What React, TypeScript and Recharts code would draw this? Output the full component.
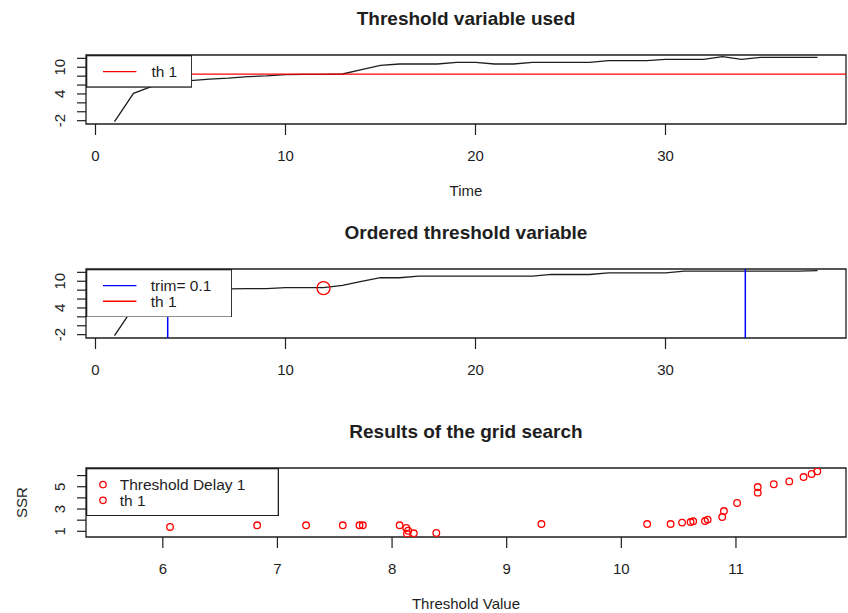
import React from "react";
import {
  LineChart,
  Line,
  ScatterChart,
  Scatter,
  XAxis,
  YAxis,
  ReferenceLine,
  ReferenceArea,
  ReferenceDot,
  Legend,
} from "recharts";

// threshold variable in time order, t = 1..38
const thresholdSeries = [
  -2.23, 4.15, 5.74, 6.4, 6.98, 7.35, 7.55, 7.88, 8.05, 8.35, 8.4, 8.42, 8.48,
  9.45, 10.4, 10.73, 10.73, 10.73, 11.11, 11.11, 10.73, 10.73, 11.11, 11.11,
  11.11, 11.11, 11.47, 11.47, 11.47, 11.78, 11.78, 11.78, 12.37, 11.78, 12.23,
  12.23, 12.23, 12.23,
];

// same variable, ordered
const orderedSeries = [
  -2.23, 4.15, 5.74, 6.4, 6.98, 7.6, 8.3, 8.33, 8.33, 8.55, 8.55, 8.55, 9.07,
  9.95, 10.79, 10.79, 11.14, 11.14, 11.14, 11.14, 11.14, 11.14, 11.14, 11.52,
  11.52, 11.52, 11.9, 11.9, 11.9, 11.9, 12.26, 12.26, 12.26, 12.26, 12.26,
  12.26, 12.26, 12.37,
];

const thValue = 8.45;
const thIndex = 12;
const trimLow = 3.8;
const trimHigh = 34.2;

// grid search: threshold tried vs SSR
const gridThresholds = [
  6.063, 6.823, 7.25, 7.57, 7.716, 7.745, 8.066, 8.124, 8.14, 8.13, 8.19, 8.386,
  9.303, 10.225, 10.43, 10.53, 10.604, 10.627, 10.73, 10.753, 10.88, 10.895,
  11.01, 11.19, 11.19, 11.33, 11.465, 11.59, 11.66, 11.71,
];
const gridSSR = [
  1.39, 1.54, 1.54, 1.54, 1.54, 1.54, 1.54, 1.3, 1.05, 0.79, 0.82, 0.85, 1.65,
  1.65, 1.65, 1.78, 1.83, 1.9, 1.92, 2.05, 2.28, 2.82, 3.54, 4.47, 4.97, 5.22,
  5.48, 5.87, 6.14, 6.38,
];

const timeTicks = [0, 10, 20, 30];
const levelTicks = [-2, 0, 2, 4, 6, 8, 10, 12];
const levelLabels = [-2, 4, 10];
const gridTicks = [6, 7, 8, 9, 10, 11];
const ssrTicks = [1, 2, 3, 4, 5, 6];
const ssrLabels = [1, 3, 5];

const topLegend = [{ label: "th 1", color: "#ff0000", mark: "line" }];
const orderedLegend = [
  { label: "trim= 0.1", color: "#0000ff", mark: "line" },
  { label: "th 1", color: "#ff0000", mark: "line" },
];
const gridLegend = [
  { label: "Threshold Delay 1", color: "#ff0000", mark: "circle" },
  { label: "th 1", color: "#ff0000", mark: "circle" },
];

const FONT = "'Liberation Sans', Arial, Helvetica, sans-serif";
const INK = "#1e1e1e";
const W = 848;
const BOX_LEFT = 86;
const BOX_RIGHT = 846;
const BOX_H = 69;
const TOP_PAD = 55;
const AXIS_H = 72;
const BOTTOM_PAD = 8; // room for descenders under the axis titles
const CHART_H = TOP_PAD + BOX_H + AXIS_H + BOTTOM_PAD;

const timeDomain = [-0.5, 39.5];
const levelDomain = [-2.75, 12.75];
const gridDomain = [5.33, 11.96];
const ssrDomain = [0.49, 6.68];

const timeData = thresholdSeries.map((v, i) => ({ t: i + 1, v }));
const orderedData = orderedSeries.map((v, i) => ({ t: i + 1, v }));
const gridData = gridThresholds.map((x, i) => ({ x, y: gridSSR[i] }));

function XTick(props: any) {
  const { x, y, payload } = props;
  return (
    <text x={x} y={y} dy={10.7} textAnchor="middle" fontSize={15} fontFamily={FONT} fill={INK}>
      {payload.value}
    </text>
  );
}

const makeYTick = (shown: number[]) => (props: any) => {
  const { x, y, payload } = props;
  if (!shown.includes(payload.value)) return <g />;
  return (
    <text
      x={x}
      y={y}
      transform={`rotate(-90 ${x} ${y})`}
      textAnchor="middle"
      fontSize={15}
      fontFamily={FONT}
      fill={INK}
    >
      {payload.value}
    </text>
  );
};

const xTitle = (text: string) => (props: any) => {
  const vb = props.viewBox || {};
  return (
    <text
      x={vb.x + vb.width / 2}
      y={vb.y + vb.height}
      textAnchor="middle"
      fontSize={15}
      fontFamily={FONT}
      fill={INK}
    >
      {text}
    </text>
  );
};

const yTitle = (text: string) => (props: any) => {
  const vb = props.viewBox || {};
  const cx = 27.4;
  const cy = vb.y + vb.height / 2;
  return (
    <text
      x={cx}
      y={cy}
      transform={`rotate(-90 ${cx} ${cy})`}
      textAnchor="middle"
      fontSize={15}
      fontFamily={FONT}
      fill={INK}
    >
      {text}
    </text>
  );
};

function LegendBox({ items, width, height, textX }: any) {
  return (
    <svg width={width} height={height} style={{ display: "block" }}>
      <rect x={0.65} y={0.65} width={width - 1.3} height={height - 1.3} fill="#fff" stroke={INK} strokeWidth={1.3} />
      {items.map((it: any, i: number) => {
        const y = 16.6 + i * 15.7;
        return (
          <g key={i}>
            {it.mark === "line" ? (
              <line x1={17} x2={50.4} y1={y} y2={y} stroke={it.color} strokeWidth={1.4} />
            ) : (
              <circle cx={17} cy={y} r={3.2} fill="none" stroke={it.color} strokeWidth={1.3} />
            )}
            <text x={textX} y={y + 5.5} fontSize={15.5} fontFamily={FONT} fill={INK}>
              {it.label}
            </text>
          </g>
        );
      })}
    </svg>
  );
}

function Title({ text }: { text: string }) {
  return (
    <div
      style={{
        position: "absolute",
        top: 8.2,
        left: BOX_LEFT,
        width: BOX_RIGHT - BOX_LEFT,
        textAlign: "center",
        fontFamily: FONT,
        fontWeight: "bold",
        fontSize: 19,
        lineHeight: "22px",
        color: INK,
        zIndex: 2,
      }}
    >
      {text}
    </div>
  );
}

const margin = { top: TOP_PAD, right: W - BOX_RIGHT, left: 0, bottom: BOTTOM_PAD };

function levelAxes(xTitleText: string | null) {
  return [
    <XAxis
      key="x"
      type="number"
      dataKey="t"
      domain={timeDomain}
      ticks={timeTicks}
      allowDataOverflow
      interval={0}
      axisLine={false}
      tickLine={{ stroke: INK, strokeWidth: 1.2 }}
      tickSize={11}
      tickMargin={15}
      height={AXIS_H}
      tick={XTick}
      label={xTitleText ? { value: xTitleText, content: xTitle(xTitleText) } : undefined}
    />,
    <YAxis
      key="y"
      type="number"
      domain={levelDomain}
      ticks={levelTicks}
      allowDataOverflow
      interval={0}
      axisLine={false}
      tickLine={{ stroke: INK, strokeWidth: 1.2 }}
      tickSize={9}
      tickMargin={11.5}
      width={BOX_LEFT}
      tick={makeYTick(levelLabels)}
    />,
  ];
}

export default function App() {
  return (
    <div style={{ position: "absolute", left: 0, top: 0, width: W, height: 613, background: "#fff", overflow: "hidden" }}>
      {/* panel 1: threshold variable over time */}
      <div style={{ position: "absolute", left: 0, top: 0, width: W, height: CHART_H }}>
        <Title text="Threshold variable used" />
        <LineChart width={W} height={CHART_H} data={timeData} margin={margin}>
          {levelAxes("Time")}
          <Line
            type="linear"
            dataKey="v"
            stroke={INK}
            strokeWidth={1.3}
            dot={false}
            isAnimationActive={false}
          />
          <ReferenceLine y={thValue} stroke="#ff0000" strokeWidth={1.4} />
          <ReferenceArea
            x1={timeDomain[0]}
            x2={timeDomain[1]}
            y1={levelDomain[0]}
            y2={levelDomain[1]}
            fill="none"
            stroke={INK}
            strokeWidth={1.3}
            ifOverflow="visible"
          />
          <Legend
            layout="horizontal"
            verticalAlign="middle"
            align="center"
            wrapperStyle={{ left: BOX_LEFT, top: TOP_PAD, width: 106.4, height: 32.7 }}
            content={() => <LegendBox items={topLegend} width={106.4} height={32.7} textX={65.4} />}
          />
        </LineChart>
      </div>

      {/* panel 2: ordered threshold variable */}
      <div style={{ position: "absolute", left: 0, top: 213.5, width: W, height: CHART_H }}>
        <Title text="Ordered threshold variable" />
        <LineChart width={W} height={CHART_H} data={orderedData} margin={margin}>
          {levelAxes(null)}
          <Line
            type="linear"
            dataKey="v"
            stroke={INK}
            strokeWidth={1.3}
            dot={false}
            isAnimationActive={false}
          />
          <ReferenceLine x={trimLow} stroke="#0000ff" strokeWidth={1.5} />
          <ReferenceLine x={trimHigh} stroke="#0000ff" strokeWidth={1.5} />
          <ReferenceDot x={thIndex} y={thValue} r={6.5} fill="none" stroke="#ff0000" strokeWidth={1.3} />
          <ReferenceArea
            x1={timeDomain[0]}
            x2={timeDomain[1]}
            y1={levelDomain[0]}
            y2={levelDomain[1]}
            fill="none"
            stroke={INK}
            strokeWidth={1.3}
            ifOverflow="visible"
          />
          <Legend
            layout="horizontal"
            verticalAlign="middle"
            align="center"
            wrapperStyle={{ left: BOX_LEFT, top: TOP_PAD, width: 146.4, height: 48.8 }}
            content={() => <LegendBox items={orderedLegend} width={146.4} height={48.8} textX={64.7} />}
          />
        </LineChart>
      </div>

      {/* panel 3: grid search */}
      <div style={{ position: "absolute", left: 0, top: 412.7, width: W, height: CHART_H }}>
        <Title text="Results of the grid search" />
        <ScatterChart width={W} height={CHART_H} margin={margin}>
          <XAxis
            type="number"
            dataKey="x"
            domain={gridDomain}
            ticks={gridTicks}
            allowDataOverflow
            interval={0}
            axisLine={false}
            tickLine={{ stroke: INK, strokeWidth: 1.2 }}
            tickSize={11}
            tickMargin={15}
            height={AXIS_H}
            tick={XTick}
            label={{ value: "Threshold Value", content: xTitle("Threshold Value") }}
          />
          <YAxis
            type="number"
            dataKey="y"
            domain={ssrDomain}
            ticks={ssrTicks}
            allowDataOverflow
            interval={0}
            axisLine={false}
            tickLine={{ stroke: INK, strokeWidth: 1.2 }}
            tickSize={9}
            tickMargin={11.5}
            width={BOX_LEFT}
            tick={makeYTick(ssrLabels)}
            label={{ value: "SSR", content: yTitle("SSR") }}
          />
          <Scatter
            data={gridData}
            isAnimationActive={false}
            shape={(p: any) => (
              <circle cx={p.cx} cy={p.cy} r={3.3} fill="none" stroke="#ff0000" strokeWidth={1.3} />
            )}
          />
          <ReferenceArea
            x1={gridDomain[0]}
            x2={gridDomain[1]}
            y1={ssrDomain[0]}
            y2={ssrDomain[1]}
            fill="none"
            stroke={INK}
            strokeWidth={1.3}
            ifOverflow="visible"
          />
          <Legend
            layout="horizontal"
            verticalAlign="middle"
            align="center"
            wrapperStyle={{ left: BOX_LEFT, top: TOP_PAD, width: 193, height: 48.3 }}
            content={() => <LegendBox items={gridLegend} width={193} height={48.3} textX={33.7} />}
          />
        </ScatterChart>
      </div>
    </div>
  );
}
